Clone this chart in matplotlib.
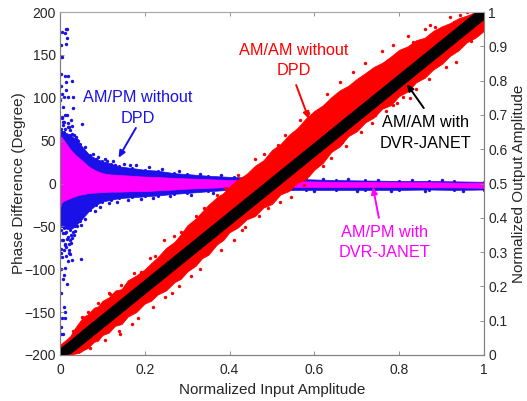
import matplotlib
matplotlib.use("Agg")
import matplotlib.pyplot as plt

plt.rcParams['font.family'] = ['Liberation Sans', 'DejaVu Sans']

# ----- valores -----
# nubes de AM/PM (eje izquierdo)
pm_x = [0, 0.004, 0.01, 0.024, 0.035, 0.047, 0.07, 0.085, 0.1, 0.12, 0.14, 0.17, 0.2, 0.23, 0.27, 0.3, 0.35, 0.41, 0.5, 0.58, 0.65, 0.72, 0.8, 0.87, 0.93, 1.0]
blue_top = [60, 60, 60, 57, 52, 46, 33, 29, 26, 23, 20, 18, 16, 15, 12, 11, 9, 7.5, 6, 5, 4, 3.5, 3, 3, 2.5, 2]
blue_bot = [-50, -50, -52, -54, -50, -44, -31, -25, -21, -19, -17, -16, -15, -14, -12, -11, -9, -7, -7.5, -7.5, -7.5, -7.5, -7.5, -7, -7.5, -7]
mag_top = [55, 54, 50, 40, 34, 29, 19, 15, 12, 10.5, 10, 9, 8, 7.5, 6.5, 6, 5, 4, 3, 2.5, 2, 2, 1.5, 1.5, 1, 1]
mag_bot = [-28, -22, -20, -17, -15, -13, -11, -10.5, -10, -9.5, -9.5, -9, -9, -8, -7, -6, -5, -4, -4, -4, -4, -4, -4, -4.5, -4.5, -5]

blue_sparse_x = [0.004, 0.013, 0.017, 0.012, 0.016, 0.002, 0.014, 0.004, 0.002, 0.002, 0.012, 0.020, 0.014, 0.028, 0.002, 0.014, 0.004, 0.009, 0.020, 0.031, 0.0, 0.031, 0.007, 0.012, 0.004, 0.051, 0.020, 0.028, 0.007, 0.039, 0.055, 0.071, 0.11, 0.13, 0.165,
                 0.049, 0.012, 0.004, 0.024, 0.012, 0.022, 0.002, 0.028, 0.049, 0.012, 0.002, 0.009, 0.006, 0.016, 0.002, 0.009, 0.012, 0.004, 0.012, 0.002, 0.007, 0.002,
                 0.06, 0.078, 0.09, 0.105, 0.125, 0.15, 0.18, 0.21, 0.24, 0.28, 0.33, 0.38, 0.62, 0.68, 0.75, 0.83, 0.9,
                 0.06, 0.082, 0.095, 0.115, 0.135, 0.16, 0.19, 0.22, 0.26, 0.31, 0.36, 0.6, 0.7, 0.78, 0.86, 0.95,
                 0.003, 0.008, 0.014, 0.019, 0.025, 0.03, 0.036, 0.041, 0.006, 0.011, 0.017, 0.022, 0.028, 0.033, 0.002, 0.009, 0.015, 0.021, 0.027, 0.005, 0.013, 0.018, 0.024,
                 0.003, 0.007, 0.012, 0.018, 0.023, 0.029, 0.034, 0.005, 0.01, 0.016, 0.021, 0.027, 0.038, 0.043]
blue_sparse_y = [177, 180, 180, 175, 170, 161, 163, 148, 147, 128, 125, 125, 118, 119, 114, 109, 104, 101, 101, 101, 97, 88, 89, 80, 78, 69, 66, 67, 72, 51, 39, 31, 26, 21, 22,
                 -48, -58, -66, -66, -72, -81, -81, -89, -88, -99, -100, -107, -111, -117, -128, -144, -150, -157, -157, -167, -175, -175,
                 42, 34, 31, 28, 26, 23, 21, 19, 17, 14, 11, 10, 5.5, 5, 4.5, 4, 3.5,
                 -41, -32, -27, -23, -21, -19, -18, -17, -15, -13, -11, -9, -9, -9, -9, -9,
                 -54, -58, -56, -62, -60, -57, -55, -50, -66, -70, -65, -71, -63, -60, -76, -78, -74, -77, -69, -86, -84, -90, -82,
                 63, 68, 64, 70, 62, 58, 56, 76, 72, 80, 66, 74, 54, 49]

# nubes de AM/AM (eje derecho)
red_x = [0, 0.012, 0.024, 0.035, 0.045, 0.055, 0.065, 0.08, 0.09, 0.1, 0.115, 0.13, 0.145, 0.16, 0.18, 0.2, 0.215, 0.23, 0.25, 0.27,
         0.285, 0.3, 0.32, 0.335, 0.35, 0.37, 0.385, 0.4, 0.42, 0.44, 0.46, 0.48, 0.5, 0.52, 0.54, 0.56, 0.58, 0.6, 0.62, 0.64,
         0.66, 0.68, 0.7, 0.72, 0.74, 0.76, 0.78, 0.8, 0.82, 0.84, 0.86, 0.88, 0.9, 0.92, 0.94, 0.96, 0.98, 1.0]
red_top = [0.03, 0.042, 0.055, 0.078, 0.095, 0.112, 0.118, 0.138, 0.142, 0.158, 0.168, 0.188, 0.192, 0.218, 0.232, 0.25, 0.268, 0.285, 0.312, 0.33,
           0.352, 0.378, 0.398, 0.418, 0.438, 0.46, 0.472, 0.492, 0.512, 0.528, 0.552, 0.568, 0.598, 0.615, 0.642, 0.662, 0.69, 0.712, 0.728, 0.752,
           0.772, 0.785, 0.805, 0.822, 0.84, 0.852, 0.87, 0.89, 0.9, 0.918, 0.925, 0.945, 0.958, 0.968, 0.982, 0.99, 1.0, 1.0]
red_bot = [0.0, 0.0, 0.0, 0.004, 0.006, 0.014, 0.02, 0.038, 0.042, 0.058, 0.065, 0.085, 0.09, 0.112, 0.125, 0.15, 0.158, 0.176, 0.188, 0.212,
           0.222, 0.243, 0.26, 0.282, 0.292, 0.322, 0.335, 0.358, 0.372, 0.395, 0.405, 0.43, 0.44, 0.468, 0.478, 0.502, 0.512, 0.54, 0.56, 0.592,
           0.608, 0.638, 0.652, 0.678, 0.692, 0.718, 0.728, 0.755, 0.768, 0.795, 0.808, 0.832, 0.848, 0.872, 0.888, 0.912, 0.925, 0.945]

blk_x = [0, 0.024, 0.055, 0.08, 0.1, 0.13, 0.16, 0.2, 0.25, 0.3, 0.35, 0.4, 0.45, 0.5, 0.55, 0.6, 0.65, 0.7, 0.75, 0.8, 0.85, 0.9, 0.95, 0.98, 1.0]
blk_top = [0.02, 0.043, 0.075, 0.1, 0.12, 0.15, 0.18, 0.22, 0.27, 0.32, 0.37, 0.42, 0.47, 0.52, 0.57, 0.62, 0.67, 0.72, 0.77, 0.82, 0.87, 0.92, 0.97, 1.0, 1.0]
blk_bot = [0.0, 0.005, 0.035, 0.06, 0.08, 0.11, 0.14, 0.18, 0.23, 0.28, 0.33, 0.38, 0.43, 0.48, 0.53, 0.58, 0.63, 0.68, 0.73, 0.78, 0.83, 0.88, 0.93, 0.96, 0.98]

red_sparse_x = [0.053, 0.141, 0.246, 0.212, 0.248, 0.118, 0.515, 0.664, 0.491, 0.436, 0.554, 0.943, 0.872, 0.833, 0.786, 0.825, 0.935, 0.743, 0.81, 0.92, 0.96,
                0.03, 0.065, 0.09, 0.115, 0.145, 0.175, 0.19, 0.225, 0.27, 0.285, 0.32, 0.34, 0.37, 0.39, 0.42, 0.46, 0.48, 0.53, 0.565, 0.585, 0.63, 0.66, 0.69, 0.72, 0.76, 0.785, 0.82, 0.86, 0.885, 0.93,
                0.07, 0.105, 0.14, 0.17, 0.185, 0.22, 0.265, 0.28, 0.31, 0.33, 0.38, 0.41, 0.43, 0.47, 0.52, 0.545, 0.575, 0.62, 0.64, 0.675, 0.71, 0.735, 0.77, 0.795, 0.84, 0.87, 0.91, 0.97]
red_sparse_y = [0.112, 0.060, 0.335, 0.282, 0.170, 0.178, 0.612, 0.622, 0.428, 0.374, 0.51, 0.991, 0.962, 0.913, 0.729, 0.748, 0.855, 0.70, 0.753, 0.985, 1.0,
                0.07, 0.125, 0.152, 0.18, 0.205, 0.24, 0.243, 0.29, 0.348, 0.358, 0.405, 0.43, 0.466, 0.486, 0.525, 0.57, 0.585, 0.64, 0.685, 0.705, 0.76, 0.795, 0.825, 0.85, 0.885, 0.905, 0.93, 0.95, 0.955, 0.97,
                0.02, 0.045, 0.07, 0.09, 0.108, 0.14, 0.18, 0.2, 0.23, 0.25, 0.305, 0.335, 0.365, 0.405, 0.445, 0.46, 0.495, 0.55, 0.575, 0.61, 0.65, 0.675, 0.71, 0.735, 0.775, 0.805, 0.84, 0.915]

x_ticks = [0, 0.2, 0.4, 0.6, 0.8, 1]
x_labels = ['0', '0.2', '0.4', '0.6', '0.8', '1']
left_ticks = [-200, -150, -100, -50, 0, 50, 100, 150, 200]
right_ticks = [0, 0.1, 0.2, 0.3, 0.4, 0.5, 0.6, 0.7, 0.8, 0.9, 1]
right_labels = ['0', '0.1', '0.2', '0.3', '0.4', '0.5', '0.6', '0.7', '0.8', '0.9', '1']

blue = '#1a10e8'
magenta = '#ff00ff'
red = '#ff0000'
gris = '#808080'
texto = '#262626'

fig = plt.figure(figsize=(5.27, 4.01), dpi=100)
ax = fig.add_axes([60/527, 1-355/401, 424/527, 343/401])
ax2 = ax.twinx()

# AM/PM
ax.fill_between(pm_x, blue_bot, blue_top, color=blue, lw=0.5)
ax.scatter(pm_x, blue_top, s=5, color=blue, lw=0)
ax.scatter(pm_x, blue_bot, s=5, color=blue, lw=0)
ax.scatter(blue_sparse_x, blue_sparse_y, s=6, color=blue, lw=0)
ax.fill_between(pm_x, mag_bot, mag_top, color=magenta, lw=0.5)

# AM/AM
ax2.fill_between(red_x, red_bot, red_top, color=red, lw=0.5)
ax2.scatter(red_sparse_x, red_sparse_y, s=6, color=red, lw=0)
ax2.fill_between(blk_x, blk_bot, blk_top, color='black', lw=0.5)

ax.set_xlim(0, 1)
ax.set_ylim(-200, 200)
ax2.set_ylim(0, 1)
ax.set_xticks(x_ticks)
ax.set_xticklabels(x_labels)
ax.set_yticks(left_ticks)
ax2.set_yticks(right_ticks)
ax2.set_yticklabels(right_labels)

for a in [ax, ax2]:
    a.tick_params(direction='in', length=3.2, width=0.6, color=gris, labelsize=10, labelcolor=texto, pad=3, top=True)
    for s in a.spines.values():
        s.set_color(gris)
        s.set_linewidth(0.8)
    a.spines['top'].set_color('#aaaaaa')
ax.tick_params(axis='x', pad=6)

ax.set_xlabel('Normalized Input Amplitude', fontsize=11, color=texto, labelpad=4)
ax.set_ylabel('Phase Difference (Degree)', fontsize=11, color=texto, labelpad=-1)
ax2.set_ylabel('Normalized Output Amplitude', fontsize=11, color=texto, labelpad=3)

# ----- textos y flechas (posiciones en datos de ax2) -----
notas = [
    ('AM/PM without\nDPD', 0.183, 0.72, blue, (0.138, 0.575), (0.179, 0.662)),
    ('AM/AM without\nDPD', 0.551, 0.859, red, (0.587, 0.688), (0.557, 0.787)),
    ('AM/AM with\nDVR-JANET', 0.861, 0.647, 'black', (0.818, 0.79), (0.858, 0.72)),
    ('AM/PM with\nDVR-JANET', 0.766, 0.328, magenta, (0.738, 0.49), (0.752, 0.40)),
]
for txt, tx, ty, col, punta, cola in notas:
    ax2.text(tx, ty, txt, color=col, fontsize=11.7, ha='center', va='center', linespacing=1.43)
    ax2.annotate('', xy=punta, xytext=cola,
                 arrowprops=dict(arrowstyle='-|>,head_length=0.4,head_width=0.18', color=col, lw=1.4, shrinkA=0, shrinkB=0))

fig.savefig('out.png', dpi=100)
